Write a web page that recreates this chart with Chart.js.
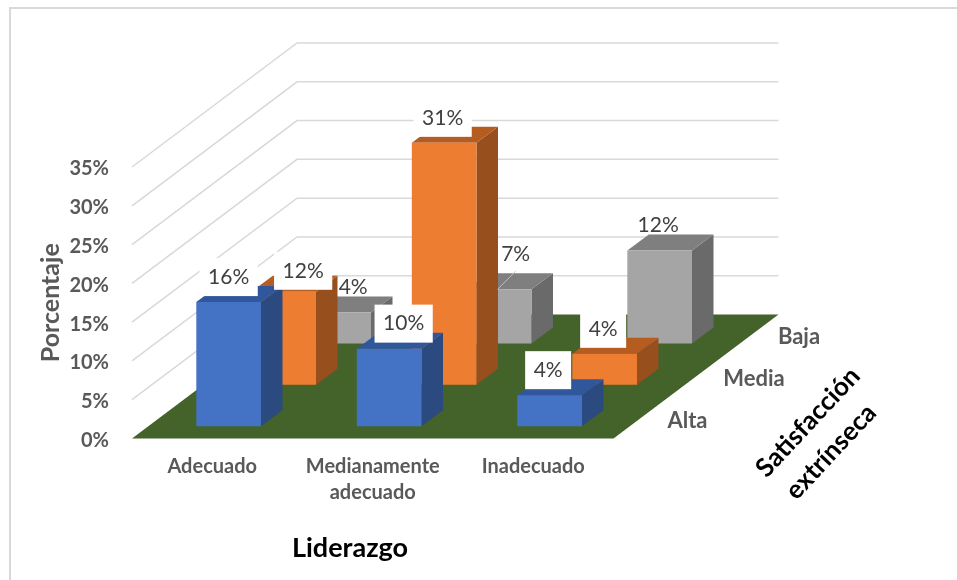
<!DOCTYPE html>
<html>
<head>
<meta charset="utf-8">
<style>
  body { margin: 0; background: #fff; }
</style>
<script src="https://cdn.jsdelivr.net/npm/chart.js@4"></script>
</head>
<body>
<canvas id="myChart" width="957" height="580"></canvas>
<script>
const liderazgo = [['Adecuado'], ['Medianamente', 'adecuado'], ['Inadecuado']];
const satisfaccion = ['Alta', 'Media', 'Baja'];
const alta = [16, 10, 4];
const media = [12, 31.2, 4];
const baja = [4, 7, 12];
const yTicks = [0, 5, 10, 15, 20, 25, 30, 35];

// oblique projection of the depth axis
const depthX = 165;
const depthY = 124;
const rowStart = { x: 16.4, y: 12.3 };
const side = { x: 21.5, y: 16 };

function rowOffset(row) {
  return {
    x: rowStart.x + row * depthX / 3,
    y: -rowStart.y - row * depthY / 3
  };
}

const faces = [
  { front: '#4472c4', side: '#2a4a80', top: '#30579b' },
  { front: '#ed7d31', side: '#964f1d', top: '#b55d21' },
  { front: '#a5a5a5', side: '#6a6a6a', top: '#7f7f7f' }
];

// labels that were moved by hand in the original: row-bar -> dx, dy
const nudges = { '1-0': [21, 4], '0-1': [16, 0], '2-0': [16, 0], '2-1': [18, -10], '0-0': [1.5, 0] };
const depthLabelX = [74, 140.5, 185.5];

const walls = {
  id: 'walls',
  beforeDatasetsDraw(chart) {
    const { ctx, chartArea: a, scales: { y } } = chart;
    const bottom = y.getPixelForValue(0);
    ctx.save();
    ctx.strokeStyle = '#d9d9d9';
    ctx.lineWidth = 1.5;
    yTicks.forEach(t => {
      if (t === 0) return;
      const py = y.getPixelForValue(t);
      ctx.beginPath();
      ctx.moveTo(a.left, py);
      ctx.lineTo(a.left + depthX, py - depthY);
      ctx.lineTo(a.right + depthX, py - depthY);
      ctx.stroke();
    });
    ctx.fillStyle = '#43632a';
    ctx.beginPath();
    ctx.moveTo(a.left, bottom);
    ctx.lineTo(a.right, bottom);
    ctx.lineTo(a.right + depthX, bottom - depthY);
    ctx.lineTo(a.left + depthX, bottom - depthY);
    ctx.closePath();
    ctx.fill();
    ctx.restore();
  }
};

const bars3d = {
  id: 'bars3d',
  beforeDatasetDraw(chart, args) {
    const { ctx } = chart;
    const off = rowOffset(args.index);
    const f = faces[args.index];
    ctx.save();
    ctx.translate(off.x, off.y);
    args.meta.data.forEach(el => {
      const r = el.x + el.width / 2;
      const l = el.x - el.width / 2;
      ctx.fillStyle = f.side;
      ctx.beginPath();
      ctx.moveTo(r, el.y);
      ctx.lineTo(r + side.x, el.y - side.y);
      ctx.lineTo(r + side.x, el.base - side.y);
      ctx.lineTo(r, el.base);
      ctx.closePath();
      ctx.fill();
      ctx.fillStyle = f.top;
      ctx.beginPath();
      ctx.moveTo(l, el.y);
      ctx.lineTo(l + side.x, el.y - side.y);
      ctx.lineTo(r + side.x, el.y - side.y);
      ctx.lineTo(r, el.y);
      ctx.closePath();
      ctx.fill();
    });
  },
  afterDatasetDraw(chart) {
    chart.ctx.restore();
  },
  afterDatasetsDraw(chart) {
    const { ctx, chartArea: a, scales: { y } } = chart;
    ctx.save();
    ctx.textAlign = 'center';
    ctx.textBaseline = 'middle';

    // value labels, boxed ones last
    ctx.font = '21px Lato';
    [2, 1, 0].forEach(row => {
      const off = rowOffset(row);
      chart.getDatasetMeta(row).data.forEach((el, i) => {
        const n = nudges[row + '-' + i] || [0, 0];
        const lx = el.x + off.x - 1.5 + n[0];
        const ly = el.y + off.y - 25 + n[1];
        const txt = Math.round(chart.data.datasets[row].data[i]) + '%';
        const w = ctx.measureText(txt).width + 17;
        if (row < 2) {
          ctx.fillStyle = '#fff';
          ctx.fillRect(lx - w / 2, ly - 19, w, 38);
        }
        if (row === 2 && i === 1) {
          ctx.strokeStyle = '#bfbfbf';
          ctx.lineWidth = 1;
          ctx.beginPath();
          ctx.moveTo(el.x + off.x - 1.5, el.y + off.y);
          ctx.lineTo(lx, ly + 17);
          ctx.stroke();
        }
        ctx.fillStyle = '#404040';
        ctx.fillText(txt, lx, ly);
      });
    });

    // depth axis categories
    ctx.fillStyle = '#595959';
    ctx.font = 'bold 22px Lato';
    const bottom = y.getPixelForValue(0);
    satisfaccion.forEach((s, i) => {
      ctx.fillText(s, a.right + depthLabelX[i], bottom - 18 - i * 42);
    });

    // axis titles
    ctx.fillStyle = '#000';
    ctx.font = 'bold 27px Lato';
    ctx.fillText('Liderazgo', 350, 548);
    ctx.font = 'bold 26px Lato';
    ctx.save();
    ctx.translate(819.5, 437);
    ctx.rotate(-47 * Math.PI / 180);
    ctx.fillText('Satisfacción', 3, -18.5);
    ctx.fillText('extrínseca', -3, 18.5);
    ctx.restore();
    ctx.restore();
  }
};

const frame = {
  id: 'frame',
  beforeDraw(chart) {
    const { ctx } = chart;
    ctx.save();
    ctx.fillStyle = '#fff';
    ctx.fillRect(0, 0, 957, 580);
    ctx.strokeStyle = '#d9d9d9';
    ctx.lineWidth = 2;
    ctx.strokeRect(10, 8, 1000, 1000);
    ctx.restore();
  }
};

const canvas = document.getElementById('myChart');

new Chart(canvas, {
  type: 'bar',
  data: {
    labels: liderazgo,
    datasets: [
      { label: satisfaccion[0], data: alta, backgroundColor: faces[0].front },
      { label: satisfaccion[1], data: media, backgroundColor: faces[1].front },
      { label: satisfaccion[2], data: baja, backgroundColor: faces[2].front }
    ]
  },
  options: {
    responsive: false,
    animation: false,
    layout: { padding: { left: 0, top: 167, right: 343.5, bottom: 0 } },
    datasets: { bar: { grouped: false, barPercentage: 0.403, categoryPercentage: 1, clip: false } },
    plugins: { legend: { display: false }, tooltip: { enabled: false } },
    scales: {
      x: {
        grid: { display: false },
        border: { display: false },
        afterFit(scale) { scale.height = 141.5; },
        ticks: {
          padding: 7,
          maxRotation: 0,
          autoSkip: false,
          color: '#595959',
          font: { family: 'Lato', size: 20, weight: 'bold', lineHeight: 1.3 }
        }
      },
      y: {
        min: 0,
        max: 35,
        grid: { display: false, drawTicks: false },
        border: { display: false },
        afterFit(scale) { scale.width = 132; },
        afterBuildTicks(scale) { scale.ticks = yTicks.map(v => ({ value: v })); },
        ticks: {
          padding: 23,
          labelOffset: 2,
          color: '#595959',
          font: { family: 'Lato', size: 20, weight: 'bold' },
          callback: v => v + '%'
        },
        title: {
          display: true,
          text: 'Porcentaje',
          color: '#595959',
          padding: { top: 36, bottom: 0 },
          font: { family: 'Lato', size: 25, weight: 'bold' }
        }
      }
    }
  },
  plugins: [frame, walls, bars3d]
});
</script>
</body>
</html>
